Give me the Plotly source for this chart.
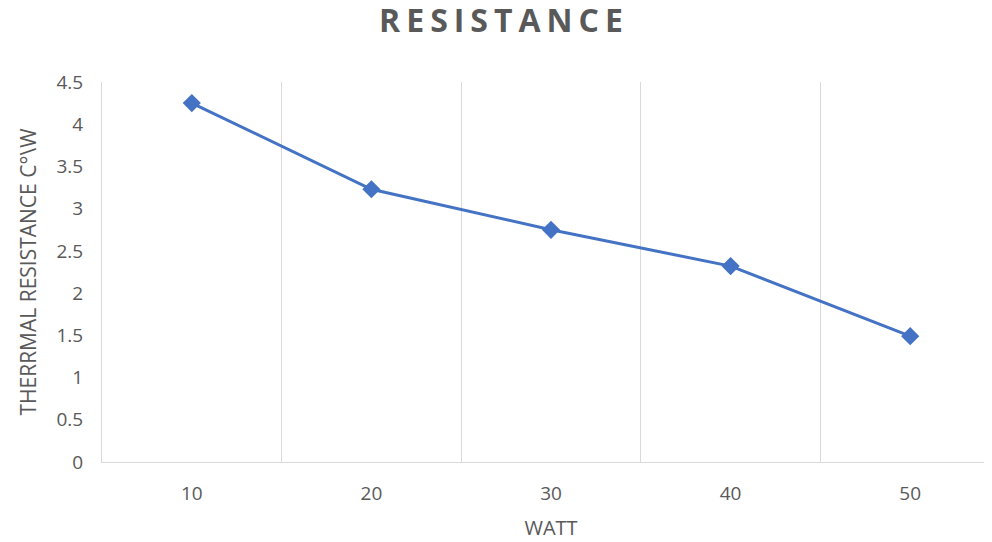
import plotly.graph_objects as go

watts = ["10", "20", "30", "40", "50"]
resistance = [4.25, 3.23, 2.75, 2.32, 1.49]
y_ticks = [0, 0.5, 1, 1.5, 2, 2.5, 3, 3.5, 4, 4.5]
y_labels = ["0", "0.5", "1", "1.5", "2", "2.5", "3", "3.5", "4", "4.5"]

GREY = "#595959"
GRID = "#D9D9D9"
BLUE = "#4472C4"

fig = go.Figure()
fig.add_trace(go.Scatter(
    x=watts, y=resistance, mode="lines+markers",
    line=dict(color=BLUE, width=3),
    marker=dict(symbol="diamond", size=14, color=BLUE),
    showlegend=False,
))

# page body has an 8px margin, so the figure is laid out 8px up/left
fig.update_layout(
    width=992, height=542,
    paper_bgcolor="white", plot_bgcolor="white",
    font=dict(family="Open Sans", color=GREY, size=19),
    title=dict(text='<span style="letter-spacing:6px">RESISTANCE</span>',
               x=0.5, xanchor="center", y=0.976, yanchor="middle",
               font=dict(family="Open Sans", size=32, color=GREY, weight=700)),
    margin=dict(l=94, r=0, t=74, b=88, autoexpand=False),
    xaxis=dict(
        type="category", range=[-0.5, 4.5],
        tickson="boundaries", ticks="",
        showgrid=True, gridcolor=GRID, gridwidth=1,
        showline=True, linecolor=GRID, linewidth=1,
        ticklabelstandoff=14,
        title=dict(text="WATT", standoff=16, font=dict(size=20, color=GREY)),
        zeroline=False,
    ),
    yaxis=dict(
        range=[0, 4.5], tickvals=y_ticks, ticktext=y_labels,
        showgrid=False, zeroline=False,
        showline=True, linecolor=GRID, linewidth=1,
        ticks="", ticklabelstandoff=14,
        title=dict(text="THERRMAL RESISTANCE C°\\W", standoff=14,
                   font=dict(size=21, color=GREY)),
    ),
)

fig.write_html("out.html")
